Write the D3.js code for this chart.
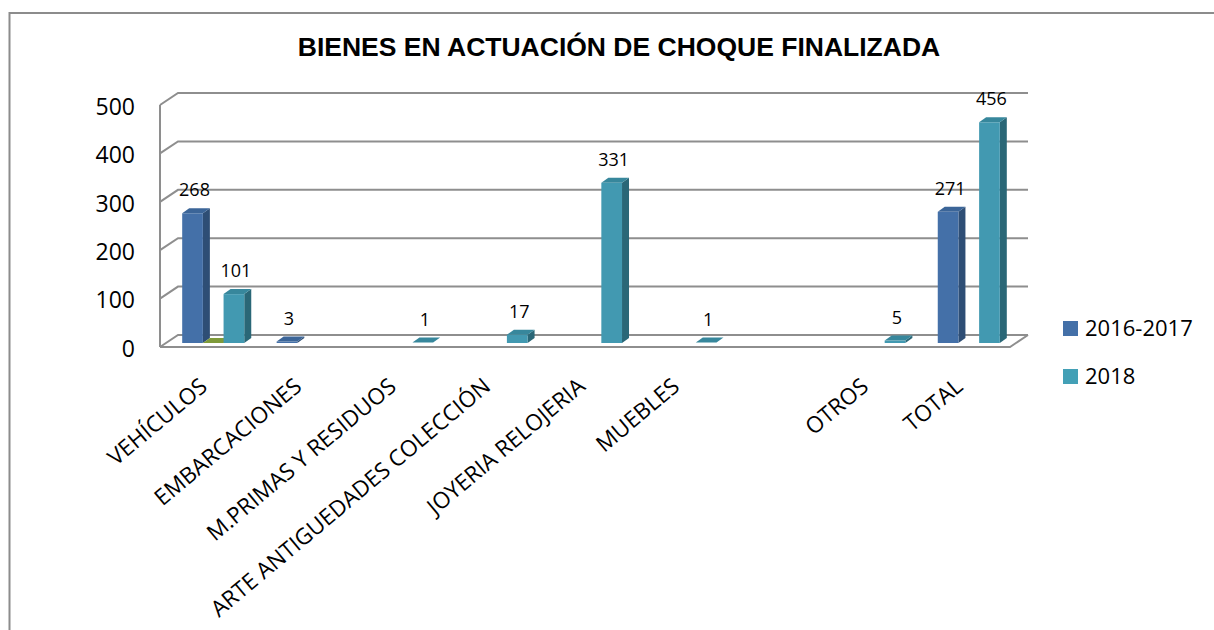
<!DOCTYPE html>
<html>
<head>
<meta charset="utf-8">
<script src="https://cdn.jsdelivr.net/npm/d3@7"></script>
<style>
  body { margin: 0; background: #fff; }
  text { font-family: "Open Sans", sans-serif; fill: #000; }
</style>
</head>
<body>
<svg width="1214" height="630"></svg>
<script>
// data
var categories = ["VEHÍCULOS", "EMBARCACIONES", "M.PRIMAS Y RESIDUOS", "ARTE ANTIGUEDADES COLECCIÓN",
                  "JOYERIA RELOJERIA", "MUEBLES", "", "OTROS", "TOTAL"];
var serie2016 = [268, 3, null, null, null, null, null, null, 271];
var serieOtra = [0, null, null, null, null, null, null, null, null];   // serie sin nombre en la leyenda
var serie2018 = [101, null, 1, 17, 331, 1, null, 5, 456];
var yTicks = [0, 100, 200, 300, 400, 500];
var legendNames = ["2016-2017", "2018"];

var svg = d3.select("svg"),
    width = +svg.attr("width"),
    height = +svg.attr("height");

// 3d frame
var x0 = 160, x1 = 1010, dX = 18, dY = -12;   // floor depth
var bX = 6, bY = -4;                          // bars sit a bit inside the floor
var tX = 7, tY = -5;                          // bar depth

var y = d3.scaleLinear().domain([0, 500]).range([347, 105]);
var x = d3.scaleBand().domain(d3.range(categories.length)).range([x0, x1])
    .paddingInner(0.343).paddingOuter(0.1715);
var xs = d3.scaleBand().domain([0, 1, 2]).range([0, x.bandwidth()]);

var series = [
  { values: serie2016, front: "#4470a8", side: "#2e4e75", top: "#3b6598", label: true },
  { values: serieOtra, front: "#8aa640", side: "#5f7428", top: "#7e9a3a", label: false },
  { values: serie2018, front: "#4299b1", side: "#2a6777", top: "#37879c", label: true }
];

// outer border
svg.append("rect")
    .attr("x", 9.5).attr("y", 13)
    .attr("width", 1400).attr("height", 800)
    .attr("fill", "none").attr("stroke", "#8c8c8c").attr("stroke-width", 2);

// title
svg.append("text")
    .attr("x", 619).attr("y", 56)
    .attr("text-anchor", "middle")
    .style("font-family", "'Liberation Sans', Arial, sans-serif")
    .style("font-weight", "bold")
    .style("font-size", "26.5px")
    .text("BIENES EN ACTUACIÓN DE CHOQUE FINALIZADA");

var grid = svg.append("g")
    .attr("stroke", "#8e8e8e").attr("stroke-width", 2).attr("fill", "none");

// back wall gridlines + left wall diagonals
grid.selectAll(".gl").data(yTicks).enter().append("path")
    .attr("d", function(t) {
      return "M" + x0 + "," + y(t) + "L" + (x0 + dX) + "," + (y(t) + dY) + "L" + (x1 + dX) + "," + (y(t) + dY);
    });
grid.append("line")
    .attr("x1", x0).attr("x2", x0).attr("y1", y(0)).attr("y2", y(500));
// floor front + right edge
grid.append("path")
    .attr("d", "M" + x0 + "," + y(0) + "L" + x1 + "," + y(0) + "L" + (x1 + dX) + "," + (y(0) + dY));

// y axis labels
var yAxis = svg.append("g")
    .attr("transform", "translate(135,2)")
    .call(d3.axisLeft(y).tickValues(yTicks).tickSize(0).tickPadding(0));
yAxis.select(".domain").remove();
yAxis.selectAll("text")
    .style("font-family", "'Open Sans', sans-serif")
    .style("font-size", "23px");

// x axis labels
var xAxis = svg.append("g")
    .attr("transform", "translate(0,390)")
    .call(d3.axisBottom(x).tickSize(0).tickFormat(function(i) { return categories[i]; }));
xAxis.select(".domain").remove();
xAxis.selectAll("text")
    .attr("y", 0).attr("dy", 0).attr("x", 2)
    .attr("text-anchor", "end")
    .attr("transform", "rotate(-40)")
    .style("font-family", "'Open Sans', sans-serif")
    .style("font-size", "22.5px");

// bars
var bars = svg.append("g");
series.forEach(function(s, si) {
  s.values.forEach(function(v, i) {
    if (v === null) return;
    var fx = x(i) + xs(si) + bX,
        w = xs.bandwidth(),
        yb = y(0) + bY,
        yt = y(v) + bY;
    var g = bars.append("g");
    if (yb - yt > 0.5) {
      g.append("path").attr("fill", s.side)
          .attr("d", "M" + (fx + w) + "," + yb + "L" + (fx + w + tX) + "," + (yb + tY) +
                     "L" + (fx + w + tX) + "," + (yt + tY) + "L" + (fx + w) + "," + yt + "Z");
      g.append("rect").attr("fill", s.front)
          .attr("x", fx).attr("y", yt).attr("width", w).attr("height", yb - yt);
    }
    g.append("path").attr("fill", s.top)
        .attr("d", "M" + fx + "," + yt + "L" + (fx + w) + "," + yt + "L" + (fx + w + tX) + "," + (yt + tY) +
                   "L" + (fx + tX) + "," + (yt + tY) + "Z");
    if (s.label) {
      g.append("text")
          .attr("x", fx + w / 2 + 2).attr("y", yt - 17)
          .attr("text-anchor", "middle")
          .style("font-size", "18px")
          .text(v);
    }
  });
});

// legend
var legend = svg.append("g").selectAll("g")
    .data(legendNames).enter().append("g")
    .attr("transform", function(d, i) { return "translate(1063," + (321 + i * 48) + ")"; });
legend.append("rect")
    .attr("width", 15).attr("height", 15)
    .attr("fill", function(d, i) { return i === 0 ? "#4470a8" : "#43a0b6"; });
legend.append("text")
    .attr("x", 22).attr("y", 15)
    .style("font-size", "22px")
    .text(function(d) { return d; });
</script>
</body>
</html>
